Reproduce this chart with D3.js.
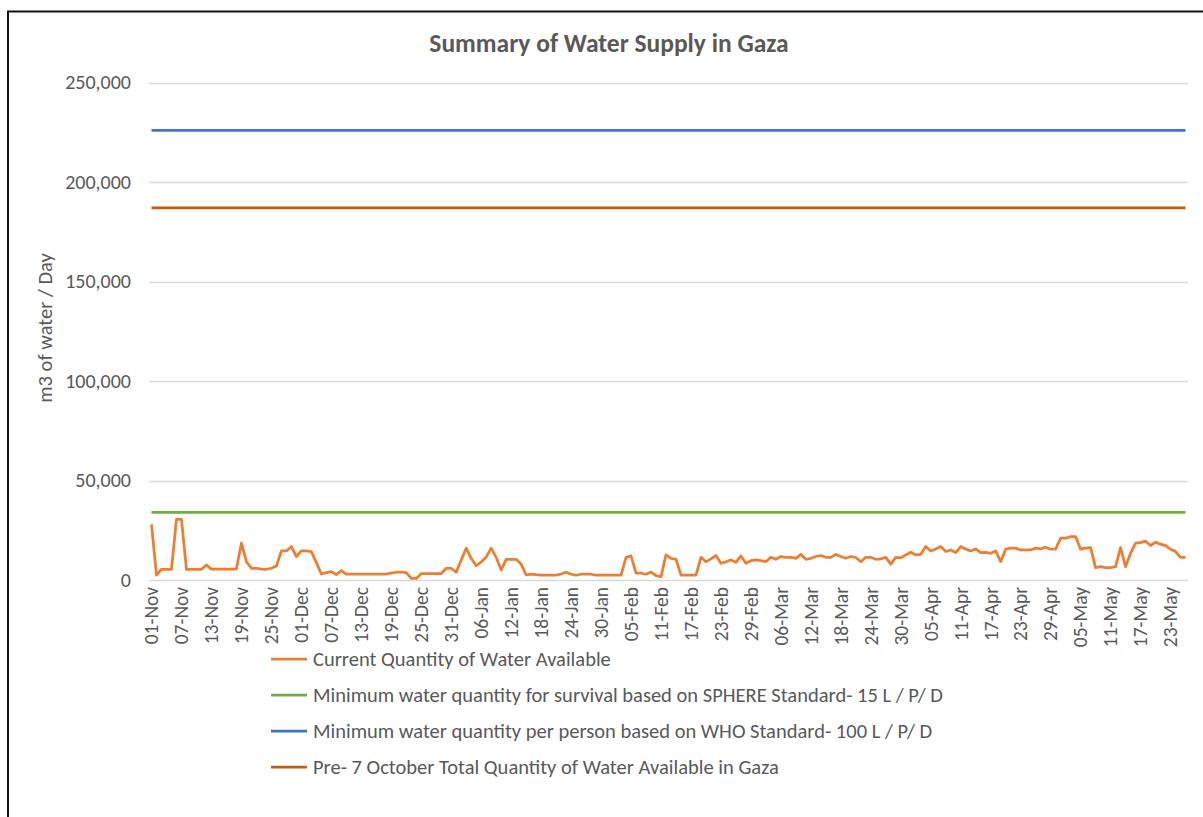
<!DOCTYPE html>
<html>
<head>
<meta charset="utf-8">
<script src="https://cdn.jsdelivr.net/npm/d3@7"></script>
<style>
  body { margin: 0; background: #fff; }
  svg { display: block; font-family: Calibri, Carlito, Lato, sans-serif; }
</style>
</head>
<body>
<div id="chart"></div>
<script>
// daily categories, 01-Nov-2023 .. 26-May-2024
const startDate = new Date(2023, 10, 1);
const endDate = new Date(2024, 4, 27);
const days = d3.timeDay.range(startDate, endDate);

// Current Quantity of Water Available (m3/day)
const currentWater = [
  28000, 2500, 5400, 5400, 5400, 30500, 30500, 5400, 5400, 5400,
  5400, 7500, 5500, 5500, 5500, 5500, 5500, 5500, 18500, 9200,
  5900, 5900, 5500, 5400, 5900, 7000, 14600, 14600, 16800, 11800,
  14600, 14600, 14300, 8700, 3000, 3700, 4200, 2700, 4700, 3000,
  2900, 2900, 2900, 2900, 2900, 2900, 2900, 3000, 3500, 3900,
  3900, 3700, 800, 800, 3200, 3200, 3200, 3200, 3200, 5900,
  5900, 3900, 10000, 16000, 10900, 7200, 9000, 11500, 16000, 11400,
  5000, 10400, 10400, 10400, 8000, 2500, 3000, 2700, 2500, 2500,
  2500, 2500, 3000, 3900, 2900, 2400, 2900, 3000, 2900, 2400,
  2400, 2400, 2400, 2400, 2500, 11400, 12100, 3400, 3400, 2900,
  4000, 2200, 1700, 12600, 10900, 10400, 2500, 2500, 2500, 2500,
  11400, 9200, 10600, 12300, 8400, 9200, 10100, 8900, 12100, 8400,
  9700, 10100, 9700, 9200, 11400, 10400, 11800, 11400, 11400, 10900,
  12900, 10400, 10900, 11800, 12300, 11400, 11400, 12900, 11800, 10900,
  11800, 11300, 9200, 11400, 11400, 10400, 10600, 11400, 8000, 11400,
  11100, 12600, 13900, 12600, 12900, 16800, 14600, 15600, 16800, 14300,
  15100, 13800, 16800, 15500, 14600, 15600, 13800, 13900, 13400, 14600,
  9200, 15500, 16000, 16000, 15100, 15100, 15100, 16000, 15600, 16500,
  15500, 15500, 21000, 21000, 21800, 21800, 15500, 16000, 16300, 6200,
  6700, 6200, 6200, 6700, 16300, 6700, 13400, 18500, 18800, 19500,
  17300, 19000, 18000, 17300, 15500, 14300, 11400, 11400
];

// reference levels (constant lines)
const sphereMin = 34000;
const whoMin = 226000;
const preOct7 = 187000;

const yTicks = [0, 50000, 100000, 150000, 200000, 250000];
const tickEvery = 6;

const seriesNames = [
  'Current Quantity of Water Available',
  'Minimum water quantity for survival based on SPHERE Standard- 15 L / P/ D',
  'Minimum water quantity per person based on WHO Standard- 100 L / P/ D',
  'Pre- 7 October Total Quantity of Water Available in Gaza'
];
const seriesColors = ['#ED7D31', '#70AD47', '#4472C4', '#C55A11'];

const width = 1203, height = 817;
const textColor = '#595959';
const fmtDay = d3.timeFormat('%d-%b');

const svg = d3.select('#chart').append('svg')
  .attr('width', width)
  .attr('height', height);

// frame (only top and left edges visible in the screenshot)
svg.append('path')
  .attr('d', `M8,${height} L8,11.5 L${width},11.5`)
  .attr('fill', 'none')
  .attr('stroke', '#111')
  .attr('stroke-width', 2);

const x = d3.scaleBand()
  .domain(d3.range(days.length))
  .range([149, 1188])
  .padding(0);
const cx = i => x(i) + x.bandwidth() / 2;

const y = d3.scaleLinear()
  .domain([0, 250000])
  .range([580, 82.5]);

// gridlines
svg.append('g')
  .selectAll('line')
  .data(yTicks)
  .enter().append('line')
  .attr('x1', 149)
  .attr('x2', 1188)
  .attr('y1', d => Math.round(y(d)) + 0.5)
  .attr('y2', d => Math.round(y(d)) + 0.5)
  .attr('stroke', '#D9D9D9')
  .attr('stroke-width', 1.5);

// y axis labels
const yAxis = svg.append('g')
  .attr('transform', 'translate(131,0)')
  .call(d3.axisLeft(y).tickValues(yTicks).tickSize(0).tickPadding(0).tickFormat(d3.format(',')));
yAxis.select('.domain').remove();
yAxis.selectAll('text')
  .attr('fill', textColor)
  .attr('font-size', '20px')
  .attr('font-family', 'Calibri, Carlito, Lato, sans-serif');

// y axis title
svg.append('text')
  .attr('transform', 'translate(45,328) rotate(-90)')
  .attr('text-anchor', 'middle')
  .attr('dy', '0.35em')
  .attr('fill', textColor)
  .attr('font-size', '20.5px')
  .text('m3 of water / Day');

// x axis labels
const xAxis = svg.append('g')
  .attr('transform', 'translate(0,580)')
  .call(d3.axisBottom(x)
    .tickValues(d3.range(0, days.length, tickEvery))
    .tickSize(0)
    .tickFormat(i => fmtDay(days[i])));
xAxis.select('.domain').remove();
xAxis.selectAll('text')
  .attr('transform', 'rotate(-90)')
  .attr('text-anchor', 'end')
  .attr('x', -7)
  .attr('y', 0)
  .attr('dy', '0.35em')
  .attr('fill', textColor)
  .attr('font-size', '19.5px')
  .attr('font-family', 'Calibri, Carlito, Lato, sans-serif');

// constant reference lines
const lastIdx = days.length - 1;
[[sphereMin, seriesColors[1]], [whoMin, seriesColors[2]], [preOct7, seriesColors[3]]].forEach(([v, c]) => {
  svg.append('line')
    .attr('x1', cx(0))
    .attr('x2', cx(lastIdx))
    .attr('y1', y(v))
    .attr('y2', y(v))
    .attr('stroke', c)
    .attr('stroke-width', 2.75);
});

// current quantity line
const line = d3.line()
  .x((d, i) => cx(i))
  .y(d => y(d))
  .curve(d3.curveLinear);
svg.append('path')
  .datum(currentWater)
  .attr('d', line)
  .attr('fill', 'none')
  .attr('stroke', seriesColors[0])
  .attr('stroke-width', 2.75)
  .attr('stroke-linejoin', 'round');

// title
svg.append('text')
  .attr('x', 609)
  .attr('y', 52)
  .attr('text-anchor', 'middle')
  .attr('fill', textColor)
  .attr('font-size', '25.5px')
  .attr('font-weight', 'bold')
  .text('Summary of Water Supply in Gaza');

// legend
const legend = svg.append('g')
  .selectAll('g')
  .data(seriesNames)
  .enter().append('g')
  .attr('transform', (d, i) => `translate(271,${659 + i * 36})`);
legend.append('line')
  .attr('x1', 0)
  .attr('x2', 36)
  .attr('stroke', (d, i) => seriesColors[i])
  .attr('stroke-width', 2.75);
legend.append('text')
  .attr('x', 42)
  .attr('dy', '0.35em')
  .attr('fill', textColor)
  .attr('font-size', '20.5px')
  .text(d => d);
</script>
</body>
</html>
